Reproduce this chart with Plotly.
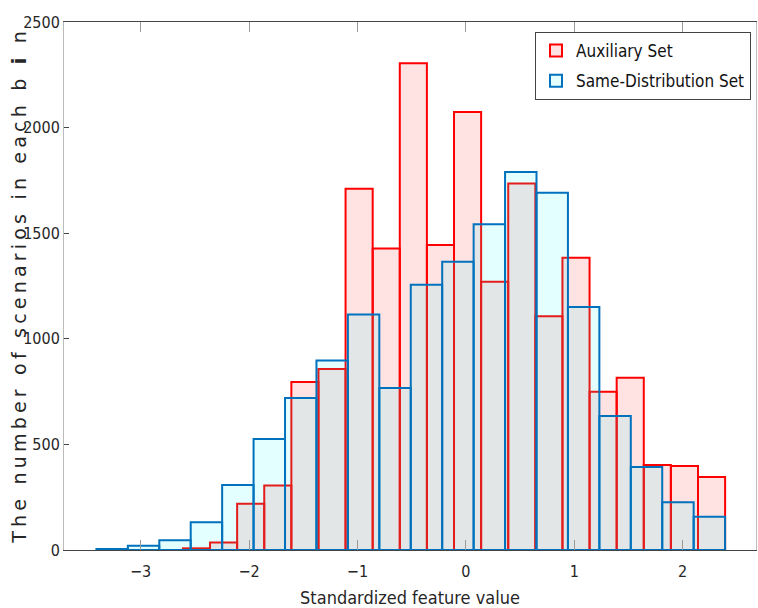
import numpy as np
import plotly.graph_objects as go

# ---- data ----
aux_counts = [8, 36, 219, 305, 796, 857, 1711, 1427, 2305, 1444,
              2074, 1270, 1735, 1107, 1384, 749, 815, 403, 398, 346]
same_counts = [5, 20, 46, 131, 308, 526, 720, 897, 1115, 767,
               1256, 1365, 1542, 1790, 1692, 1150, 635, 393, 226, 158]
aux_range = [-2.610, 2.392]
same_range = [-3.408, 2.392]
x_ticks = [-3, -2, -1, 0, 1, 2]
y_ticks = [0, 500, 1000, 1500, 2000, 2500]
series_names = ["Auxiliary Set", "Same-Distribution Set"]


def bins(rng, counts):
    edges = np.linspace(rng[0], rng[1], len(counts) + 1)
    centers = (edges[:-1] + edges[1:]) / 2
    widths = np.diff(edges)
    return centers, widths


fig = go.Figure()
for counts, rng, name, line_c, fill_c in [
    (aux_counts, aux_range, series_names[0], "rgb(255,0,0)", "rgba(255,0,0,0.11)"),
    (same_counts, same_range, series_names[1], "rgb(0,114,189)", "rgba(0,255,255,0.11)"),
]:
    c, w = bins(rng, counts)
    fig.add_trace(go.Bar(
        x=c, y=counts, width=w, name=name, legendgroup=name,
        marker=dict(color=fill_c, line=dict(color=line_c, width=2)),
    ))

fig.update_layout(
    width=758, height=608,
    margin=dict(l=64, r=2, t=22, b=58),
    barmode="overlay",
    plot_bgcolor="white", paper_bgcolor="white",
    font=dict(family="DejaVu Sans Condensed, DejaVu Sans", size=16, color="#262626"),
    legend=dict(
        x=(751 - 64) / 692, y=(550 - 32) / 528, xanchor="right", yanchor="top",
        bgcolor="white", bordercolor="#444", borderwidth=1,
        font=dict(size=17, color="#111"),
        itemwidth=30, tracegroupgap=5, traceorder="grouped",
    ),
    xaxis=dict(
        range=[-3.707, 2.677], tickvals=x_ticks,
        ticks="inside", ticklen=10, tickcolor="#999", tickwidth=1,
        showline=True, linecolor="#444", linewidth=1, mirror="ticks",
        showgrid=False, zeroline=False,
        tickfont=dict(size=16), ticklabelstandoff=7,
        title=dict(text="Standardized feature value", font=dict(size=18, color="#262626"), standoff=12),
    ),
    yaxis=dict(
        range=[0, 2500], tickvals=y_ticks,
        ticks="inside", ticklen=5, tickcolor="#444", tickwidth=1,
        showline=True, linecolor="#bbb", linewidth=1, mirror=True,
        showgrid=False, zeroline=False,
        tickfont=dict(size=16),
    ),
    annotations=[dict(
        text="The number of scenarios in each b <b>i</b> n",
        xref="paper", yref="paper", x=(19 - 64) / 692, y=0.5,
        xanchor="center", yanchor="middle", textangle=-90, showarrow=False,
        font=dict(family="DejaVu Sans", size=19, color="#262626"),
    )],
)

post = """
document.querySelectorAll('text.annotation-text').forEach(function(e){
  e.style.letterSpacing = '4.2px';
});
"""
fig.write_html("out.html", post_script=post)
